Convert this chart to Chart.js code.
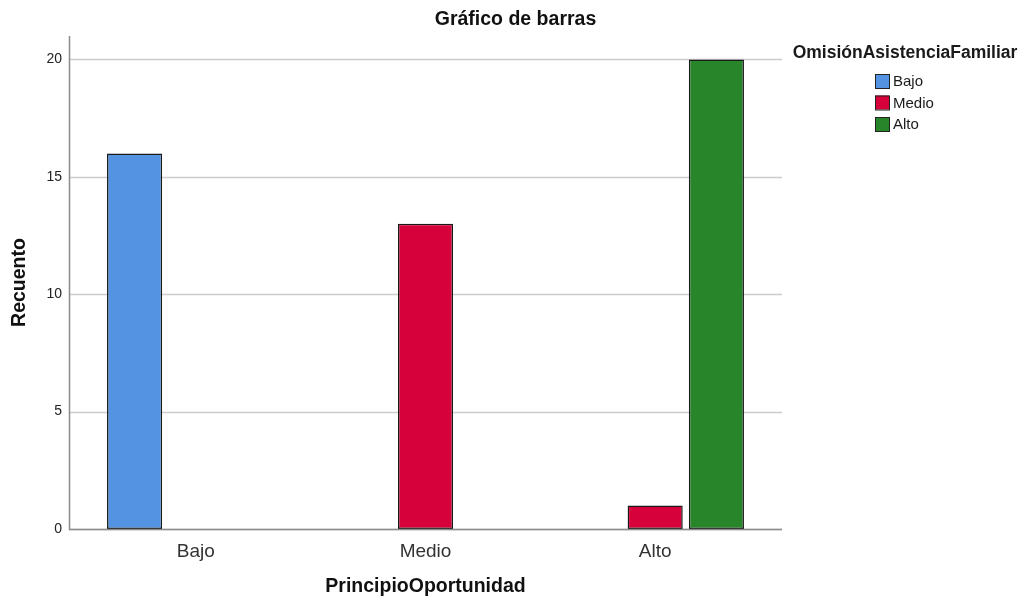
<!DOCTYPE html>
<html lang="es">
<head>
  <meta charset="UTF-8" />
  <title>Gráfico de barras</title>
  <style>
    body { margin: 0; background: #ffffff; }
    #wrap { width: 1025px; height: 601px; }
  </style>
</head>
<body>
  <div id="wrap"><canvas id="barChart" width="1025" height="601"></canvas></div>

  <script src="https://cdn.jsdelivr.net/npm/chart.js"></script>
  <script>
    // categorias del eje X (PrincipioOportunidad)
    const categories = ['Bajo', 'Medio', 'Alto'];
    // recuentos por nivel de OmisiónAsistenciaFamiliar
    const bajoCounts = [16, 0, 0];
    const medioCounts = [0, 13, 1];
    const altoCounts = [0, 0, 20];
    const yTicks = [0, 5, 10, 15, 20];

    const legendTitle = 'OmisiónAsistenciaFamiliar';
    const font = "'Liberation Sans', Arial, sans-serif";

    // grid + axis lines drawn a bit wider than the chart area, like SPSS does
    const spssAxes = {
      id: 'spssAxes',
      beforeDatasetsDraw(chart) {
        const { ctx, chartArea } = chart;
        const y = chart.scales.y;
        const left = chartArea.left - 12, right = chartArea.right + 12;
        ctx.save();
        ctx.strokeStyle = '#cccccc';
        ctx.lineWidth = 1.5;
        y.ticks.forEach(t => {
          const py = Math.round(y.getPixelForValue(t.value)) + 0.5;
          ctx.beginPath();
          ctx.moveTo(left, py);
          ctx.lineTo(right, py);
          ctx.stroke();
        });
        ctx.restore();
      },
      afterDatasetsDraw(chart) {
        const { ctx, chartArea } = chart;
        const left = chartArea.left - 12, right = chartArea.right + 12;
        const bottom = Math.round(chartArea.bottom) + 0.5;
        ctx.save();
        ctx.strokeStyle = '#8c8c8c';
        ctx.lineWidth = 1.5;
        ctx.beginPath();
        ctx.moveTo(left + 0.5, chartArea.top);
        ctx.lineTo(left + 0.5, bottom);
        ctx.lineTo(right, bottom);
        ctx.stroke();
        ctx.restore();
      }
    };

    // leyenda a la derecha, dibujada a mano
    const sideLegend = {
      id: 'sideLegend',
      afterDraw(chart) {
        const { ctx } = chart;
        ctx.save();
        ctx.fillStyle = '#1a1a1a';
        ctx.font = 'bold 17.5px ' + font;
        ctx.textAlign = 'center';
        ctx.textBaseline = 'middle';
        ctx.fillText(legendTitle, 905, 53);
        ctx.textAlign = 'left';
        ctx.font = '15px ' + font;
        chart.data.datasets.forEach((ds, i) => {
          const top = 74 + i * 21.5;
          ctx.fillStyle = ds.backgroundColor;
          ctx.fillRect(875, top, 14, 14);
          ctx.strokeStyle = '#222222';
          ctx.lineWidth = 1;
          ctx.strokeRect(875.5, top + 0.5, 14, 14);
          ctx.fillStyle = '#1a1a1a';
          ctx.fillText(ds.label, 893, top + 8);
        });
        ctx.restore();
      }
    };

    const ctx = document.getElementById('barChart').getContext('2d');
    const barStyle = {
      borderColor: '#1a1a1a',
      borderWidth: c => (c.raw ? 1.5 : 0),
      borderSkipped: false,
      categoryPercentage: 0.8,
      barPercentage: 0.9
    };

    new Chart(ctx, {
      type: 'bar',
      data: {
        labels: categories,
        datasets: [
          { label: 'Bajo', data: bajoCounts, backgroundColor: '#5393e1', ...barStyle },
          { label: 'Medio', data: medioCounts, backgroundColor: '#d6003a', ...barStyle },
          { label: 'Alto', data: altoCounts, backgroundColor: '#29852a', ...barStyle }
        ]
      },
      options: {
        responsive: false,
        animation: false,
        layout: { padding: { left: 6, right: 0, top: 0, bottom: 0 } },
        plugins: {
          legend: { display: false },
          tooltip: { enabled: false },
          title: {
            display: true,
            text: 'Gráfico de barras',
            color: '#111111',
            font: { family: font, size: 19.5, weight: 'bold' },
            padding: { top: 8, bottom: 4.6 }
          }
        },
        scales: {
          x: {
            grid: { display: false },
            border: { display: false },
            ticks: {
              color: '#333333',
              font: { family: font, size: 19 },
              padding: 3
            },
            title: {
              display: true,
              text: 'PrincipioOportunidad',
              color: '#111111',
              font: { family: font, size: 19.5, weight: 'bold' },
              padding: { top: 0, bottom: 3 }
            },
            afterFit(s) { s.height = 72; }
          },
          y: {
            min: 0,
            max: 21,
            grid: { display: false, drawTicks: false },
            border: { display: false },
            afterBuildTicks(s) { s.ticks = yTicks.map(v => ({ value: v })); },
            ticks: {
              color: '#222222',
              font: { family: font, size: 14 },
              padding: 19
            },
            title: {
              display: true,
              text: 'Recuento',
              color: '#111111',
              font: { family: font, size: 19.5, weight: 'bold' },
              padding: { top: 2, bottom: 0 }
            },
            afterFit(s) { s.width = 75; }
          },
          // spacer on the right so the legend has room
          side: {
            position: 'right',
            display: true,
            grid: { display: false },
            border: { display: false },
            ticks: { display: false },
            afterFit(s) { s.width = 255; }
          }
        }
      },
      plugins: [spssAxes, sideLegend]
    });
  </script>
</body>
</html>
